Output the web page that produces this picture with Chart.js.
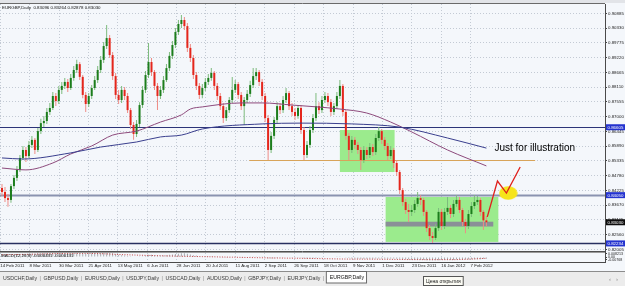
<!DOCTYPE html>
<html><head><meta charset="utf-8">
<script src="https://cdn.jsdelivr.net/npm/chart.js@4.4.1/dist/chart.umd.min.js"></script>
<style>html,body{margin:0;padding:0;background:#eeeeee;overflow:hidden}canvas{display:block}</style>
</head><body><canvas id="c" width="625" height="286"></canvas>
<script>
// ---------- DATA ----------
const symbolTitle = "EURGBP,Daily  0.83096 0.83264 0.82878 0.83030";
const firstOpen = 0.8432;   // each later open = previous close
const closes = [
0.8417,0.8394,0.8387,0.8439,0.8470,0.8500,0.8545,0.8575,0.8552,0.8594,
0.8613,0.8575,0.8646,0.8676,0.8684,0.8718,0.8733,0.8778,0.8759,0.8801,
0.8816,0.8831,0.8808,0.8846,0.8876,0.8898,0.8850,0.8782,0.8748,0.8778,
0.8808,0.8838,0.8876,0.8914,0.8966,0.8996,0.8932,0.8853,0.8782,0.8763,
0.8801,0.8778,0.8725,0.8669,0.8635,0.8673,0.8744,0.8801,0.8857,0.8906,
0.8868,0.8816,0.8778,0.8801,0.8838,0.8883,0.8929,0.8970,0.9019,0.9049,
0.9064,0.9041,0.8959,0.8921,0.8857,0.8816,0.8782,0.8808,0.8831,0.8846,
0.8865,0.8816,0.8778,0.8740,0.8695,0.8725,0.8763,0.8801,0.8823,0.8782,
0.8740,0.8763,0.8786,0.8819,0.8853,0.8868,0.8831,0.8778,0.8695,0.8575,
0.8628,0.8688,0.8740,0.8725,0.8763,0.8789,0.8740,0.8718,0.8703,0.8733,
0.8650,0.8556,0.8594,0.8650,0.8695,0.8740,0.8725,0.8763,0.8778,0.8755,
0.8718,0.8740,0.8778,0.8816,0.8718,0.8628,0.8575,0.8613,0.8594,0.8575,
0.8537,0.8575,0.8556,0.8586,0.8567,0.8620,0.8646,0.8613,0.8590,0.8552,
0.8575,0.8526,0.8492,0.8424,0.8379,0.8349,0.8342,0.8349,0.8372,0.8394,
0.8387,0.8342,0.8281,0.8251,0.8244,0.8281,0.8342,0.8289,0.8342,0.8357,
0.8334,0.8372,0.8387,0.8349,0.8304,0.8289,0.8334,0.8364,0.8379,0.8387,
0.8342,0.8310,0.83030];
const highs = [
0.8447,0.8436,0.8409,0.8447,0.8481,0.8515,0.8556,0.8590,0.8586,0.8609,
0.8628,0.8620,0.8658,0.8692,0.8703,0.8733,0.8752,0.8793,0.8789,0.8816,
0.8831,0.8846,0.8842,0.8861,0.8891,0.8914,0.8906,0.8857,0.8793,0.8789,
0.8819,0.8853,0.8891,0.8929,0.8981,0.9045,0.9008,0.8944,0.8865,0.8801,
0.8816,0.8812,0.8789,0.8733,0.8680,0.8688,0.8755,0.8816,0.8872,0.8977,
0.8921,0.8876,0.8827,0.8816,0.8853,0.8898,0.8944,0.8985,0.9034,0.9064,
0.9083,0.9075,0.9053,0.8974,0.8932,0.8868,0.8827,0.8823,0.8846,0.8861,
0.8883,0.8872,0.8827,0.8789,0.8752,0.8737,0.8774,0.8850,0.8838,0.8831,
0.8793,0.8774,0.8801,0.8835,0.8883,0.8883,0.8876,0.8842,0.8789,0.8707,
0.8643,0.8699,0.8755,0.8752,0.8778,0.8808,0.8797,0.8752,0.8733,0.8744,
0.8744,0.8661,0.8609,0.8665,0.8710,0.8789,0.8755,0.8778,0.8793,0.8789,
0.8767,0.8752,0.8793,0.8838,0.8823,0.8725,0.8639,0.8628,0.8624,0.8605,
0.8586,0.8590,0.8586,0.8601,0.8597,0.8635,0.8661,0.8654,0.8624,0.8601,
0.8590,0.8582,0.8537,0.8500,0.8432,0.8391,0.8372,0.8368,0.8387,0.8417,
0.8406,0.8394,0.8349,0.8293,0.8266,0.8296,0.8357,0.8353,0.8357,0.8398,
0.8368,0.8387,0.8406,0.8398,0.8357,0.8315,0.8349,0.8379,0.8406,0.8402,
0.8394,0.8349,0.83264];
const lows = [
0.8402,0.8379,0.8361,0.8376,0.8428,0.8458,0.8492,0.8537,0.8530,0.8545,
0.8582,0.8560,0.8567,0.8635,0.8661,0.8673,0.8707,0.8725,0.8740,0.8748,
0.8786,0.8804,0.8793,0.8801,0.8835,0.8865,0.8838,0.8770,0.8718,0.8737,
0.8767,0.8801,0.8827,0.8865,0.8902,0.8955,0.8921,0.8838,0.8767,0.8748,
0.8752,0.8763,0.8714,0.8654,0.8613,0.8624,0.8661,0.8733,0.8789,0.8846,
0.8853,0.8801,0.8725,0.8767,0.8789,0.8831,0.8872,0.8917,0.8959,0.9008,
0.9034,0.9026,0.8944,0.8906,0.8842,0.8801,0.8767,0.8770,0.8797,0.8819,
0.8835,0.8801,0.8763,0.8725,0.8676,0.8684,0.8714,0.8752,0.8789,0.8767,
0.8725,0.8669,0.8752,0.8774,0.8808,0.8838,0.8816,0.8763,0.8680,0.8537,
0.8564,0.8616,0.8676,0.8710,0.8714,0.8752,0.8725,0.8703,0.8688,0.8692,
0.8635,0.8537,0.8545,0.8582,0.8639,0.8684,0.8710,0.8714,0.8752,0.8740,
0.8703,0.8707,0.8729,0.8767,0.8703,0.8613,0.8537,0.8564,0.8579,0.8560,
0.8500,0.8526,0.8541,0.8545,0.8552,0.8556,0.8609,0.8597,0.8575,0.8537,
0.8541,0.8507,0.8477,0.8409,0.8364,0.8334,0.8304,0.8327,0.8338,0.8361,
0.8368,0.8327,0.8266,0.8236,0.8225,0.8236,0.8270,0.8274,0.8278,0.8330,
0.8319,0.8323,0.8361,0.8338,0.8289,0.8262,0.8278,0.8323,0.8353,0.8368,
0.8327,0.8274,0.82878];

// moving averages, read at selected bars
const maSlowIdx = [0,7,23,33,45,53,60,67,87,100,117,133,149,162];
const maSlow    = [0.8545,0.8541,0.8564,0.8586,0.8605,0.8624,0.8631,0.8654,0.8673,0.8676,0.8673,0.8661,0.8620,0.8582];
const maFastIdx = [0,8,17,23,30,37,45,53,60,63,67,80,87,97,113,122,130,137,149,162];
const maFast    = [0.8507,0.8500,0.8526,0.8560,0.8590,0.8631,0.8646,0.8680,0.8707,0.8729,0.8737,0.8752,0.8752,0.8744,0.8729,0.8714,0.8680,0.8643,0.8575,0.8515];

// MACD sub-window
const macdHist = [
0.004,0.003,0.003,0.004,0.005,0.006,0.007,0.008,0.008,0.009,
0.009,0.009,0.010,0.010,0.011,0.011,0.011,0.012,0.012,0.012,
0.012,0.012,0.012,0.013,0.013,0.013,0.012,0.011,0.010,0.010,
0.010,0.011,0.011,0.012,0.012,0.013,0.012,0.010,0.008,0.006,
0.005,0.004,0.003,0.001,0.000,0.000,0.001,0.002,0.004,0.006,
0.006,0.005,0.004,0.004,0.004,0.005,0.006,0.007,0.008,0.009,
0.010,0.010,0.009,0.007,0.005,0.004,0.002,0.002,0.002,0.002,
0.002,0.001,0.000,-0.001,-0.002,-0.002,-0.001,0.000,0.001,0.000,
-0.001,-0.001,0.000,0.001,0.002,0.002,0.002,0.001,-0.001,-0.004,
-0.004,-0.004,-0.003,-0.002,-0.001,0.000,0.000,-0.001,-0.001,-0.001,
-0.002,-0.004,-0.005,-0.005,-0.004,-0.003,-0.002,-0.001,0.000,0.000,
0.000,0.000,0.001,0.001,0.000,-0.002,-0.003,-0.004,-0.004,-0.005,
-0.005,-0.005,-0.005,-0.005,-0.005,-0.004,-0.004,-0.004,-0.004,-0.005,
-0.004,-0.004,-0.005,-0.005,-0.006,-0.006,-0.007,-0.007,-0.008,-0.008,
-0.008,-0.008,-0.009,-0.009,-0.009,-0.009,-0.009,-0.008,-0.008,-0.008,
-0.008,-0.008,-0.007,-0.007,-0.007,-0.007,-0.007,-0.006,-0.006,-0.006,
-0.006,-0.005,-0.005];
const macdSignalIdx = [0,10,20,25,33,40,50,57,67,77,90,100,115,127,137,150,157,162];
const macdSignal    = [0.0060,0.0075,0.0095,0.0100,0.0090,0.0065,0.0040,0.0025,0.0010,-0.0005,-0.0025,-0.0035,-0.0055,-0.0060,-0.0070,-0.0072,-0.0055,-0.0035];
const macdTicks = [0.008213, 0, -0.00768];
const macdTickText = ["0.008213", "0.00", "-0.00768"];
const macdTitle = "MACD(12,26,9) -0.000431 -0.000131";

// axes
const priceTicks = [0.90885,0.90330,0.89775,0.89220,0.88665,0.88110,0.87555,0.87000,0.86445,0.85890,0.85335,0.84780,0.84225,0.83670,0.83115,0.82560,0.82005];
const dateLabels = ["14 Feb 2011","8 Mar 2011","30 Mar 2011","21 Apr 2011","13 May 2011","6 Jun 2011","28 Jun 2011","20 Jul 2011","11 Aug 2011","2 Sep 2011","26 Sep 2011","18 Oct 2011","9 Nov 2011","1 Dec 2011","23 Dec 2011","16 Jan 2012","7 Feb 2012"];
const dateTickIdx = [-0.6,9.2,19.1,28.9,38.7,48.6,58.4,68.2,78.1,87.9,97.7,107.6,117.4,127.2,137.1,146.9,156.7];

// drawn objects (in bar-index / price space)
const hLevels = [0.86605, 0.84050, 0.82234];
const bidPrice = 0.83030;
const supportLevel = 0.85370, supportFrom = 82.7, supportTo = 178.3;
const zoneFrom = [113, 128.3], zoneTo = [131.3, 166], zoneTop = [0.8650, 0.8398], zoneBottom = [0.8492, 0.8229];
const bandFrom = 128.3, bandTo = 164.3, bandTop = 0.8305, bandBottom = 0.8287;
const pathIdx = [162.3, 165.7, 168.7, 173.3];
const pathPrice = [0.8323, 0.8458, 0.8413, 0.8511];
const markIdx = [169.3], markPrice = [0.8413];
const noteText = "Just for illustration", noteIdx = 164.7, notePrice = 0.8582;

const tabs = ["USDCHF,Daily","GBPUSD,Daily","EURUSD,Daily","USDJPY,Daily","USDCAD,Daily","AUDUSD,Daily","GBPJPY,Daily","EURJPY,Daily"];
const activeTab = "EURGBP,Daily";
const hintText = "Цена открытия";

// ---------- CHART ----------
const FONT = "'Liberation Sans', Arial, sans-serif";
const BG = '#f4f7fb', GRID = '#c3cad4';
const idx = closes.map((_, i) => i);
const opens = closes.map((c, i) => i === 0 ? firstOpen : closes[i - 1]);
const isUp = closes.map((c, i) => c >= opens[i]);

// yellow ellipse marker
const ell = document.createElement('canvas'); ell.width = 19; ell.height = 14;
{ const g = ell.getContext('2d'); g.fillStyle = '#f6e41a'; g.beginPath(); g.ellipse(9.5, 7, 9.2, 6.8, 0, 0, Math.PI * 2); g.fill(); }

const noPad = s => { s.paddingLeft = 0; s.paddingRight = 0; s.paddingTop = 0; s.paddingBottom = 0; };

const overlay = {
  id: 'overlay',
  beforeDraw(chart) {
    const c = chart.ctx;
    c.save();
    c.fillStyle = '#efefef'; c.fillRect(0, 0, chart.width, chart.height);
    c.fillStyle = BG; c.fillRect(0, 3, chart.width, chart.scales.x.bottom - 3);
    c.fillStyle = '#e2e4e8'; c.fillRect(0, 0, chart.width, 3);
    c.restore();
  },
  beforeDatasetsDraw(chart) {
    const c = chart.ctx, xs = chart.scales.x, ys = chart.scales.y, ca = chart.chartArea;
    const X = v => xs.getPixelForValue(v), Y = v => ys.getPixelForValue(v);
    c.save();
    c.beginPath(); c.rect(ca.left, ys.top, ca.right - ca.left, ys.bottom - ys.top); c.clip();
    c.fillStyle = '#9beb8d';
    zoneFrom.forEach((f, k) => { c.fillRect(X(f), Y(zoneTop[k]), X(zoneTo[k]) - X(f), Y(zoneBottom[k]) - Y(zoneTop[k])); });
    c.fillStyle = '#8a9097';
    c.fillRect(X(bandFrom), Y(bandTop), X(bandTo) - X(bandFrom), Y(bandBottom) - Y(bandTop));
    const lineStyles = [['#2c3478', 1], ['#8a93b0', 2], ['#283060', 1.5]];
    hLevels.forEach((v, k) => {
      c.strokeStyle = lineStyles[k][0]; c.lineWidth = lineStyles[k][1];
      const y = Math.round(Y(v)) + 0.5;
      c.beginPath(); c.moveTo(ca.left, y); c.lineTo(ca.right, y); c.stroke();
    });
    c.strokeStyle = '#d8a45a'; c.lineWidth = 1;
    const sy = Math.round(Y(supportLevel)) + 0.5;
    c.beginPath(); c.moveTo(X(supportFrom), sy); c.lineTo(X(supportTo), sy); c.stroke();
    c.restore();
  },
  afterDatasetsDraw(chart) {
    const c = chart.ctx, xs = chart.scales.x, ys = chart.scales.y;
    c.save();
    c.fillStyle = '#000'; c.font = '10px ' + FONT; c.textBaseline = 'middle';
    c.fillText(noteText, xs.getPixelForValue(noteIdx), ys.getPixelForValue(notePrice));
    c.restore();
  },
  afterDraw(chart) {
    const c = chart.ctx, ca = chart.chartArea, ys = chart.scales.y, ms = chart.scales.m, xs = chart.scales.x;
    c.save();
    c.strokeStyle = '#6a6a6a'; c.lineWidth = 1;
    c.beginPath(); c.moveTo(0, 3.5); c.lineTo(ca.right, 3.5); c.stroke();
    c.strokeStyle = '#505050';
    c.beginPath(); c.moveTo(0, Math.round(ys.bottom) - 0.5); c.lineTo(ca.right, Math.round(ys.bottom) - 0.5); c.stroke();
    c.strokeStyle = '#9a9a9a';
    c.beginPath(); c.moveTo(0, Math.round(ys.bottom) + 0.5); c.lineTo(ca.right, Math.round(ys.bottom) + 0.5); c.stroke();
    c.fillStyle = '#111'; c.textBaseline = 'middle';
    c.font = '4.4px ' + FONT;
    c.fillText(symbolTitle, 2, 7.5);
    c.fillText(macdTitle, 1, ms.top + 3.5);
    const mark = (v, bg) => {
      const y = ys.getPixelForValue(v);
      c.fillStyle = bg; c.fillRect(ca.right + 1, y - 3, 19, 6);
      c.fillStyle = '#fff'; c.font = '4.4px ' + FONT; c.fillText(v.toFixed(5), ca.right + 2.5, y + 0.3);
    };
    hLevels.forEach(v => mark(v, '#2433cf'));
    mark(bidPrice, '#0c0c0c');
    const tb = xs.bottom;
    c.fillStyle = '#ececec'; c.fillRect(0, tb, chart.width, chart.height - tb);
    c.strokeStyle = '#8c8c8c'; c.beginPath(); c.moveTo(0, tb + 0.5); c.lineTo(chart.width, tb + 0.5); c.stroke();
    c.font = '5.2px ' + FONT; c.fillStyle = '#3c3c3c';
    let x = 3;
    tabs.forEach(t => {
      c.fillText(t, x, tb + 8);
      const w = c.measureText(t).width;
      c.fillStyle = '#8a8a8a'; c.fillText('|', x + w + 2.5, tb + 8); c.fillStyle = '#3c3c3c';
      x += w + 6.5;
    });
    const aw = c.measureText(activeTab).width;
    c.fillStyle = '#ffffff'; c.fillRect(x - 1, tb, aw + 7, 12);
    c.strokeStyle = '#6a6a6a'; c.strokeRect(x - 0.5, tb + 0.5, aw + 6, 11.5);
    c.fillStyle = '#111'; c.fillText(activeTab, x + 3, tb + 6.5);
    const hx = 423, hy = tb + 5;
    c.font = '5px ' + FONT;
    const hw = c.measureText(hintText).width + 6;
    c.fillStyle = '#fbfbf4'; c.fillRect(hx, hy, hw, 10);
    c.strokeStyle = '#555'; c.strokeRect(hx + 0.5, hy + 0.5, hw - 1, 9);
    c.fillStyle = '#222'; c.fillText(hintText, hx + 3, hy + 5.3);
    c.fillStyle = '#888'; c.font = '6px ' + FONT; c.fillText('\u2039   \u203A', 609, tb + 8);
    c.restore();
  }
};

new Chart(document.getElementById('c'), {
  type: 'bar',
  data: { datasets: [
    { type: 'bar', xAxisID: 'x', yAxisID: 'y', order: 6, grouped: false, maxBarThickness: 1, inflateAmount: 0,
      data: idx.map(i => ({ x: i, y: [lows[i], highs[i]] })),
      backgroundColor: isUp.map(u => u ? '#7dbb7d' : '#ee8c86') },
    { type: 'bar', xAxisID: 'x', yAxisID: 'y', order: 5, grouped: false, maxBarThickness: 2, minBarLength: 1, inflateAmount: 0,
      data: idx.map(i => ({ x: i, y: [opens[i], closes[i]] })),
      backgroundColor: isUp.map(u => u ? '#1c7d1c' : '#e4261c') },
    { type: 'line', xAxisID: 'x', yAxisID: 'y', order: 4, borderColor: '#3a3f8e', borderWidth: 1, pointRadius: 0,
      cubicInterpolationMode: 'monotone', data: maSlowIdx.map((v, k) => ({ x: v, y: maSlow[k] })) },
    { type: 'line', xAxisID: 'x', yAxisID: 'y', order: 4, borderColor: '#8d4a7c', borderWidth: 1, pointRadius: 0,
      cubicInterpolationMode: 'monotone', data: maFastIdx.map((v, k) => ({ x: v, y: maFast[k] })) },
    { type: 'line', xAxisID: 'x', yAxisID: 'y', order: 3, showLine: false, pointStyle: ell, pointRadius: 8,
      data: markIdx.map((v, k) => ({ x: v, y: markPrice[k] })) },
    { type: 'line', xAxisID: 'x', yAxisID: 'y', order: 2, borderColor: '#e0201c', borderWidth: 1.3, pointRadius: 0, tension: 0,
      data: pathIdx.map((v, k) => ({ x: v, y: pathPrice[k] })) },
    { type: 'bar', xAxisID: 'x', yAxisID: 'm', order: 6, grouped: false, maxBarThickness: 1, inflateAmount: 0,
      backgroundColor: '#a9abb0', data: idx.map(i => ({ x: i, y: macdHist[i] })) },
    { type: 'line', xAxisID: 'x', yAxisID: 'm', order: 5, borderColor: '#c84848', borderWidth: 1, borderDash: [1, 1.5],
      pointRadius: 0, cubicInterpolationMode: 'monotone', data: macdSignalIdx.map((v, k) => ({ x: v, y: macdSignal[k] })) }
  ]},
  options: {
    responsive: false, animation: false, devicePixelRatio: 1, events: [],
    layout: { autoPadding: false, padding: { left: -2, right: 0, top: 4, bottom: 15 } },
    plugins: { legend: { display: false }, tooltip: { enabled: false } },
    scales: {
      x: { type: 'linear', min: -0.667, max: 201.667, offset: false, bounds: 'data',
        grid: { color: GRID, offset: false, drawTicks: false },
        border: { display: true, color: '#4a4a4a', dash: [1, 2] },
        ticks: { autoSkip: false, maxRotation: 0, minRotation: 0, align: 'start', padding: 1.5, color: '#222',
          font: { family: FONT, size: 4.4 }, callback: (v, i) => dateLabels[i] },
        afterBuildTicks: s => { s.ticks = dateTickIdx.map(v => ({ value: v })); },
        afterFit: s => { s.height = 9; noPad(s); } },
      y: { type: 'linear', position: 'right', stack: 'panes', stackWeight: 24.8, min: 0.81911, max: 0.91242, bounds: 'data',
        grid: { color: GRID, drawTicks: true, tickLength: 2, tickColor: '#444' },
        border: { display: true, color: '#4a4a4a', dash: [1, 2] },
        ticks: { autoSkip: false, padding: 1, color: '#222', font: { family: FONT, size: 4.4 }, callback: v => v.toFixed(5) },
        afterBuildTicks: s => { s.ticks = priceTicks.map(v => ({ value: v })); },
        afterFit: s => { s.width = 20; noPad(s); } },
      m: { type: 'linear', position: 'right', stack: 'panes', stackWeight: 1, min: -0.0135, max: 0.0135, bounds: 'data',
        grid: { drawOnChartArea: false, drawTicks: true, tickLength: 2, tickColor: '#444' },
        border: { display: true, color: '#4a4a4a' },
        ticks: { autoSkip: false, padding: 1, color: '#222', font: { family: FONT, size: 3.6 }, callback: (v, i) => macdTickText[i] },
        afterBuildTicks: s => { s.ticks = macdTicks.map(v => ({ value: v })); },
        afterFit: s => { s.width = 20; noPad(s); } }
    }
  },
  plugins: [overlay]
});
</script>
</body></html>
